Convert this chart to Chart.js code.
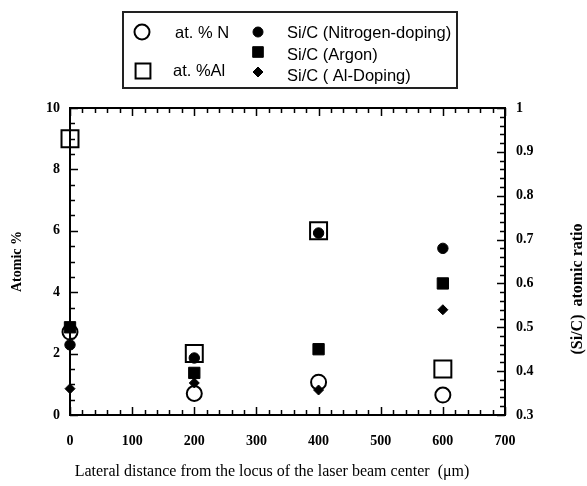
<!DOCTYPE html>
<html><head><meta charset="utf-8">
<script src="https://cdn.jsdelivr.net/npm/chart.js@4.4.0/dist/chart.umd.min.js"></script>
<style>html,body{margin:0;padding:0;background:#fff;}#wrap{width:587px;height:486px;position:relative;}</style>
</head><body><div id="wrap"><canvas id="c" width="587" height="486"></canvas></div>
<script>
// ---- data ----
const distances = [0, 200, 400, 600];            // lateral distance (µm)
const atPctN    = [2.7, 0.7, 1.07, 0.65];        // at. % N   (left axis)
const atPctAl   = [9.0, 2.0, 6.0, 1.5];          // at. % Al  (left axis)
const siC_N     = [0.46, 0.43, 0.715, 0.68];     // Si/C Nitrogen-doping (right axis)
const siC_Ar    = [0.50, 0.396, 0.45, 0.60];     // Si/C Argon (right axis)
const siC_Al    = [0.36, 0.373, 0.357, 0.54];    // Si/C Al-Doping (right axis)
const seriesNames = ['at. % N', 'at. %Al', 'Si/C (Nitrogen-doping)', 'Si/C (Argon)', 'Si/C ( Al-Doping)'];
const xTitle  = 'Lateral distance from the locus of the laser beam center  (\u03bcm)';
const yTitle  = 'Atomic %';
const y2Title = '(Si/C)  atomic ratio';

const pts = arr => distances.map((d, i) => ({x: d, y: arr[i]}));
const tickFont = {family: 'Liberation Serif', weight: 'bold', size: 14};

const styles = [
  {pointStyle: 'circle', radius: 7.5, borderWidth: 2, backgroundColor: 'rgba(0,0,0,0)', borderColor: '#000', yAxisID: 'y', order: 2},
  {pointStyle: 'rect', radius: 12, borderWidth: 2, backgroundColor: 'rgba(0,0,0,0)', borderColor: '#000', yAxisID: 'y', order: 2},
  {pointStyle: 'circle', radius: 5.2, borderWidth: 1, backgroundColor: '#000', borderColor: '#000', yAxisID: 'y2', order: 1},
  {pointStyle: 'rect', radius: 8, borderWidth: 1, backgroundColor: '#000', borderColor: '#000', yAxisID: 'y2', order: 1},
  {pointStyle: 'rectRot', radius: 5, borderWidth: 1, backgroundColor: '#000', borderColor: '#000', yAxisID: 'y2', order: 1}
];
const seriesData = [atPctN, atPctAl, siC_N, siC_Ar, siC_Al];

const datasets = seriesData.map((arr, i) => ({
  label: seriesNames[i],
  data: pts(arr),
  showLine: false,
  clip: false,
  pointStyle: styles[i].pointStyle,
  pointRadius: styles[i].radius,
  pointHoverRadius: styles[i].radius,
  pointBorderWidth: styles[i].borderWidth,
  pointBackgroundColor: styles[i].backgroundColor,
  pointBorderColor: styles[i].borderColor,
  yAxisID: styles[i].yAxisID,
  order: styles[i].order
}));

function near(v, step) { return Math.abs(v / step - Math.round(v / step)) < 1e-6; }

const framePlugin = {
  id: 'frame',
  beforeDatasetsDraw(chart) {
    const {ctx, chartArea: {left, right, top, bottom}, scales: {x, y, y2}} = chart;
    ctx.save();
    ctx.strokeStyle = '#000';
    ctx.lineWidth = 1.5;
    ctx.beginPath();
    for (let v = x.min; v <= x.max + 1e-9; v += 20) {
      const p = Math.round(x.getPixelForValue(v)) + 0.5;
      const len = near(v, 100) ? 8 : 5;
      ctx.moveTo(p, bottom); ctx.lineTo(p, bottom - len);
      ctx.moveTo(p, top); ctx.lineTo(p, top + len);
    }
    for (let v = y.min; v <= y.max + 1e-9; v += 0.5) {
      const p = Math.round(y.getPixelForValue(v)) + 0.5;
      const len = near(v, 2) ? 8 : 5;
      ctx.moveTo(left, p); ctx.lineTo(left + len, p);
    }
    for (let v = y2.min; v <= y2.max + 1e-9; v += 0.02) {
      const p = Math.round(y2.getPixelForValue(v)) + 0.5;
      const len = near(v, 0.1) ? 8 : 5;
      ctx.moveTo(right, p); ctx.lineTo(right - len, p);
    }
    ctx.stroke();
    ctx.lineWidth = 2;
    ctx.strokeRect(left, top, right - left, bottom - top);
    ctx.restore();
  },
  afterDraw(chart) {
    const {ctx} = chart;
    ctx.save();
    ctx.fillStyle = '#000';
    // x title
    ctx.font = '16px "Liberation Serif"';
    ctx.textAlign = 'center';
    ctx.textBaseline = 'middle';
    ctx.fillText(xTitle, 272, 472);
    // right title
    ctx.save();
    ctx.translate(578, 289);
    ctx.rotate(-Math.PI / 2);
    ctx.font = 'bold 16px "Liberation Serif"';
    ctx.fillText(y2Title, 0, 0);
    ctx.restore();
    // legend box
    ctx.lineWidth = 2;
    ctx.strokeStyle = '#222';
    ctx.strokeRect(123, 12, 334, 76);
    const legendPos = [
      {mx: 142, my: 32, tx: 175, ty: 33},
      {mx: 143, my: 71, tx: 173, ty: 71},
      {mx: 258, my: 32, tx: 287, ty: 33},
      {mx: 258, my: 52, tx: 287, ty: 55},
      {mx: 258, my: 72, tx: 287, ty: 76}
    ];
    const legendRad = [7.5, 10.5, 5, 7.5, 5];
    ctx.font = '16.5px "Liberation Sans"';
    ctx.textAlign = 'left';
    ctx.textBaseline = 'middle';
    legendPos.forEach((p, i) => {
      ctx.fillStyle = styles[i].backgroundColor;
      ctx.strokeStyle = styles[i].borderColor;
      ctx.lineWidth = styles[i].borderWidth;
      Chart.helpers.drawPoint(ctx, {pointStyle: styles[i].pointStyle, radius: legendRad[i], rotation: 0, borderWidth: styles[i].borderWidth}, p.mx, p.my);
      ctx.fillStyle = '#000';
      ctx.fillText(seriesNames[i], p.tx, p.ty);
    });
    ctx.restore();
  }
};

new Chart(document.getElementById('c'), {
  type: 'scatter',
  data: {datasets},
  plugins: [framePlugin],
  options: {
    responsive: false,
    animation: false,
    devicePixelRatio: 1,
    layout: {padding: {top: 108, left: 0, right: 0, bottom: 0}},
    plugins: {legend: {display: false}, tooltip: {enabled: false}},
    scales: {
      x: {
        type: 'linear', position: 'bottom', min: 0, max: 700,
        ticks: {stepSize: 100, color: '#000', font: tickFont, padding: 18, maxRotation: 0},
        grid: {display: false, drawTicks: false}, border: {display: false},
        afterFit(s) { s.height = 71; }
      },
      y: {
        type: 'linear', position: 'left', min: 0, max: 10,
        ticks: {stepSize: 2, color: '#000', font: tickFont, padding: 10},
        grid: {display: false, drawTicks: false}, border: {display: false},
        title: {display: true, text: yTitle, color: '#000', font: {family: 'Liberation Serif', weight: 'bold', size: 14}, padding: {top: 9, bottom: 0}},
        afterFit(s) { s.width = 70; }
      },
      y2: {
        type: 'linear', position: 'right', min: 0.3, max: 1,
        ticks: {stepSize: 0.1, color: '#000', font: tickFont, padding: 11,
          callback: v => String(Math.round(v * 10) / 10)},
        grid: {display: false, drawTicks: false}, border: {display: false},
        afterFit(s) { s.width = 82; }
      }
    }
  }
});
</script>
</body></html>
